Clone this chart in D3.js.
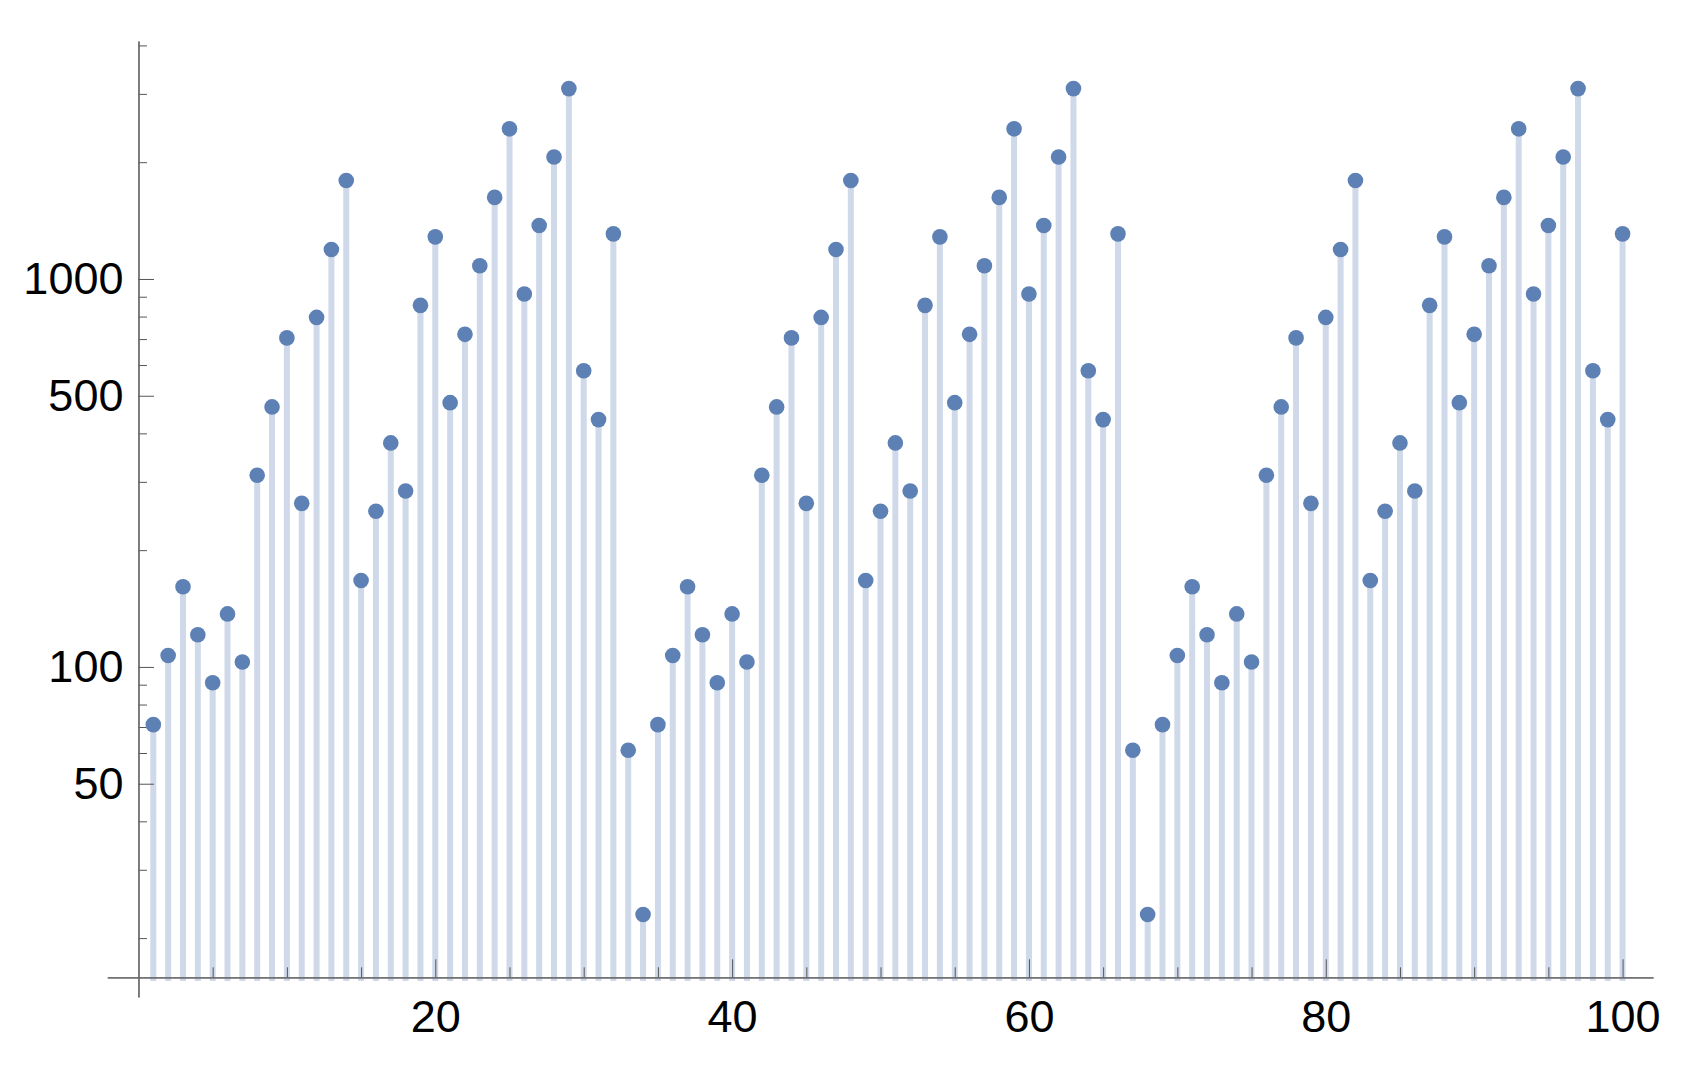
<!DOCTYPE html>
<html>
<head>
<meta charset="utf-8">
<script src="https://cdn.jsdelivr.net/npm/d3@7"></script>
<style>
  body { margin: 0; background: #fff; }
  svg { display: block; font-family: "Liberation Sans", Arial, sans-serif; }
</style>
</head>
<body>
<div id="chart"></div>
<script>
// index n = 1..100
const positions = d3.range(1, 101);

// values
const values = [
  71, 107, 161, 121, 91, 137, 103, 312, 468, 705,
  264, 796, 1191, 1794, 167, 252, 378, 284, 855, 1284,
  480, 720, 1082, 1623, 2438, 915, 1373, 2062, 3095, 580,
  434, 1307, 61, 23,
  71, 107, 161, 121, 91, 137, 103, 312, 468, 705,
  264, 796, 1191, 1794, 167, 252, 378, 284, 855, 1284,
  480, 720, 1082, 1623, 2438, 915, 1373, 2062, 3095, 580,
  434, 1307, 61, 23,
  71, 107, 161, 121, 91, 137, 103, 312, 468, 705,
  264, 796, 1191, 1794, 167, 252, 378, 284, 855, 1284,
  480, 720, 1082, 1623, 2438, 915, 1373, 2062, 3095, 580,
  434, 1307
];

const xMajorTicks = [20, 40, 60, 80, 100];
const xMinorTicks = [5, 10, 15, 25, 30, 35, 45, 50, 55, 65, 70, 75, 85, 90, 95];
const yMajorTicks = [50, 100, 500, 1000];
const yMinorTicks = [20, 30, 40, 60, 70, 80, 90, 200, 300, 400, 600, 700, 800, 900, 2000, 3000, 4000];

const width = 1684, height = 1065;
const baseline = 15.5;

const x = d3.scaleLinear().domain([-2.1, 102.05]).range([107.3, 1653]);
const y = d3.scaleLog().domain([14.1, 4106]).range([997, 41]);

const svg = d3.select('#chart')
  .append('svg')
  .attr('width', width)
  .attr('height', height);

// stems
svg.append('g')
  .selectAll('line')
  .data(positions)
  .join('line')
  .attr('x1', d => x(d))
  .attr('x2', d => x(d))
  .attr('y1', y(baseline))
  .attr('y2', (d, i) => y(values[i]))
  .attr('stroke', '#cfd9e9')
  .attr('stroke-width', 6);

// x axis: horizontal line sits at y = 977.3
const xAxisY = 977.3;
const xg = svg.append('g').attr('transform', `translate(0,${xAxisY})`);
xg.call(d3.axisBottom(x).tickValues(xMinorTicks).tickSizeInner(-10).tickSizeOuter(0).tickFormat(''));
const xg2 = svg.append('g').attr('transform', `translate(0,${xAxisY})`);
xg2.call(d3.axisBottom(x).tickValues(xMajorTicks).tickSizeInner(-18).tickSizeOuter(0)
  .tickPadding(22.7).tickFormat(d3.format('d')));

// y axis at x = 0
const yg = svg.append('g').attr('transform', `translate(${x(0)},0)`);
yg.call(d3.axisLeft(y).tickValues(yMinorTicks).tickSizeInner(-8.5).tickSizeOuter(0).tickFormat(''));
const yg2 = svg.append('g').attr('transform', `translate(${x(0)},0)`);
yg2.call(d3.axisLeft(y).tickValues(yMajorTicks).tickSizeInner(-15.5).tickSizeOuter(0)
  .tickPadding(15).tickFormat(d3.format('d')));

svg.selectAll('.domain').attr('stroke', '#6b6b6b').attr('stroke-width', 1.3);
svg.selectAll('.tick line').attr('stroke', '#555').attr('stroke-width', 1);
svg.selectAll('.tick text')
  .attr('fill', '#000')
  .style('font-size', '45px')
  .style('font-family', '"Liberation Sans", Arial, sans-serif');

// points
svg.append('g')
  .selectAll('circle')
  .data(positions)
  .join('circle')
  .attr('cx', d => x(d))
  .attr('cy', (d, i) => y(values[i]))
  .attr('r', 7.8)
  .attr('fill', '#5e81b5');
</script>
</body>
</html>
